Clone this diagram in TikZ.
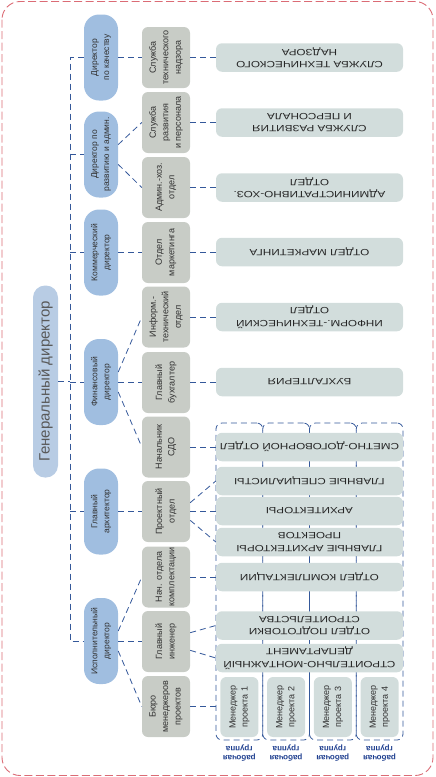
\documentclass[tikz,border=0pt]{standalone}
\usepackage{fontspec}
\setmainfont{Liberation Sans}
\newfontfamily\widefont[FakeStretch=1.3]{Liberation Sans}
\usepackage{xcolor}
\usepackage{tikz}
\definecolor{genblue}{RGB}{184,204,228}
\definecolor{dirblue}{RGB}{160,190,224}
\definecolor{unitgray}{RGB}{200,204,198}
\definecolor{deptgray}{RGB}{210,221,220}
\definecolor{linkblue}{RGB}{52,88,154}
\definecolor{framered}{RGB}{219,107,117}
\definecolor{labelblue}{RGB}{31,63,143}
\definecolor{txtdark}{RGB}{50,50,50}

\begin{document}
\begin{tikzpicture}[x=1pt,y=-1pt,
  link/.style={draw=linkblue,line width=0.8pt,dash pattern=on 6pt off 4pt},
  outerframe/.style={draw=framered,line width=0.9pt,dash pattern=on 8pt off 3.5pt,rounded corners=18pt},
  gen/.style={rotate=90,fill=genblue,rounded corners=12pt,minimum width=192pt,minimum height=25pt,
    inner sep=0pt,text=black!65,font=\fontsize{15}{18}\selectfont},
  head/.style={rotate=90,fill=dirblue,rounded corners=15pt,minimum width=86pt,minimum height=34pt,
    inner sep=0pt,align=center,text=txtdark,font=\fontsize{8.5}{12}\selectfont},
  unit/.style={rotate=90,fill=unitgray,rounded corners=6pt,minimum width=61pt,minimum height=48pt,
    inner sep=0pt,align=center,text=txtdark,font=\fontsize{9}{12.5}\selectfont},
  dept/.style={rotate=180,fill=deptgray,rounded corners=6pt,minimum width=187pt,minimum height=28.5pt,
    inner sep=0pt,align=center,text=black!85,font=\widefont\fontsize{9}{12.5}\selectfont},
  mgr/.style={rotate=90,fill=deptgray,rounded corners=6pt,minimum width=60pt,minimum height=38pt,
    inner sep=0pt,align=center,text=txtdark,font=\fontsize{9}{12}\selectfont},
  grp/.style={link,rounded corners=6pt,minimum width=46.75pt,minimum height=317pt,inner sep=0pt},
  grplabel/.style={rotate=180,align=center,text=labelblue,font=\bfseries\fontsize{8}{9.5}\selectfont}]
\useasboundingbox (0,0) rectangle (436,777);
\draw[outerframe] (2,1.5) rectangle (433,775.5);

\coordinate (trunk) at (70,0);
\node[gen] (gen) at (45.5,381.5) {Генеральный директор};

\node[head] (dirQ) at (101,57.5) {Директор\\по качеству};
\node[head] (dirDev) at (101,154.5) {Директор по\\развитию и админ.};
\node[head] (dirCom) at (101,252.5) {Коммерческий\\директор};
\node[head] (dirFin) at (101,382) {Финансовый\\директор};
\node[head] (dirArch) at (101,511.5) {Главный\\архитектор};
\node[head] (dirExec) at (101,641) {Исполнительный\\директор};

\node[unit] (uQ) at (166,57.5) {Служба\\технического\\надзора};
\node[unit] (uStaff) at (166,122.5) {Служба\\развития\\и персонала};
\node[unit] (uAdm) at (166,187.5) {Админ.-хоз.\\отдел};
\node[unit] (uMkt) at (166,252.5) {Отдел\\маркетинга};
\node[unit] (uIT) at (166,317) {Информ.-\\технический\\отдел};
\node[unit] (uAcc) at (166,382.5) {Главный\\бухгалтер};
\node[unit] (uSdo) at (166,447) {Начальник\\СДО};
\node[unit] (uProj) at (166,511.5) {Проектный\\отдел};
\node[unit] (uKompl) at (166,577) {Нач. отдела\\комплектации};
\node[unit] (uEng) at (166,641.5) {Главный\\инженер};
\node[unit] (uBuro) at (166,706.5) {Бюро\\менеджеров\\проектов};

\foreach \i in {1,...,4} {
  \node[grp] (grp\i) at ({216+46.75*(\i-0.5)},581.5) {};
  \node[mgr] (mgr\i) at (grp\i |- 0,707) {Менеджер\\проекта \i};
  \node[grplabel] (lbl\i) at (grp\i |- 0,753) {рабочая\\группа};
}

\node[dept] (dQ) at (309.5,57.5) {СЛУЖБА ТЕХНИЧЕСКОГО\\НАДЗОРА};
\node[dept] (dStaff) at (309.5,122.5) {СЛУЖБА РАЗВИТИЯ\\И ПЕРСОНАЛА};
\node[dept] (dAdm) at (309.5,187.5) {АДМИНИСТРАТИВНО-ХОЗ.\\ОТДЕЛ};
\node[dept] (dMkt) at (309.5,252) {ОТДЕЛ МАРКЕТИНГА};
\node[dept] (dIT) at (309.5,317) {ИНФОРМ.-ТЕХНИЧЕСКИЙ\\ОТДЕЛ};
\node[dept] (dAcc) at (309.5,382) {БУХГАЛТЕРИЯ};
\node[dept] (dSdo) at (309.5,447) {СМЕТНО-ДОГОВОРНОЙ ОТДЕЛ};
\node[dept] (dSpec) at (309.5,481) {ГЛАВНЫЕ СПЕЦИАЛИСТЫ};
\node[dept] (dArch) at (309.5,511) {АРХИТЕКТОРЫ};
\node[dept] (dChief) at (309.5,542) {ГЛАВНЫЕ АРХИТЕКТОРЫ\\ПРОЕКТОВ};
\node[dept] (dKompl) at (309.5,577) {ОТДЕЛ КОМПЛЕКТАЦИИ};
\node[dept] (dPrep) at (309.5,625.5) {ОТДЕЛ ПОДГОТОВКИ\\СТРОИТЕЛЬСТВА};
\node[dept] (dSmd) at (309.5,658) {СТРОИТЕЛЬНО-МОНТАЖНЫЙ\\ДЕПАРТАМЕНТ};

\draw[link] (dirQ.north) -- (dirQ.north -| trunk) -- (dirExec.north -| trunk) -- (dirExec.north);
\foreach \d in {dirDev,dirCom,dirFin,dirArch}
  \draw[link] (\d.north -| trunk) -- (\d.north);
\draw[link] (gen.south) -- (gen.south -| trunk);

\draw[link] (dirQ.south) -- (dirQ.south -| uQ.north);
\draw[link] (dirDev.-60) -- (uStaff.north);
\draw[link] (dirDev.-120) -- (uAdm.north);
\draw[link] (dirCom.south) -- (dirCom.south -| uMkt.north);
\draw[link] (dirFin.-60) -- (uIT.north);
\draw[link] (dirFin.south) -- (dirFin.south -| uAcc.north);
\draw[link] (dirFin.-120) -- (uSdo.north);
\draw[link] (dirArch.south) -- (dirArch.south -| uProj.north);
\draw[link] (dirExec.-60) -- (uKompl.north);
\draw[link] (dirExec.south) -- (dirExec.south -| uEng.north);
\draw[link] (dirExec.-120) -- (uBuro.north);

\foreach \u/\d in {uQ/dQ,uStaff/dStaff,uAdm/dAdm,uMkt/dMkt,uIT/dIT,uAcc/dAcc,uSdo/dSdo,uProj/dArch,uKompl/dKompl}
  \draw[link] (\u.south) -- (\u.south -| \d.east);
\draw[link] (uProj.-70) -- (dSpec.east);
\draw[link] (uProj.-110) -- (dChief.east);
\draw[link] (uEng.-70) -- (dPrep.east);
\draw[link] (uEng.-110) -- (dSmd.east);
\draw[link] (uBuro.south) -- (uBuro.south -| grp1.west);
\end{tikzpicture}
\end{document}
